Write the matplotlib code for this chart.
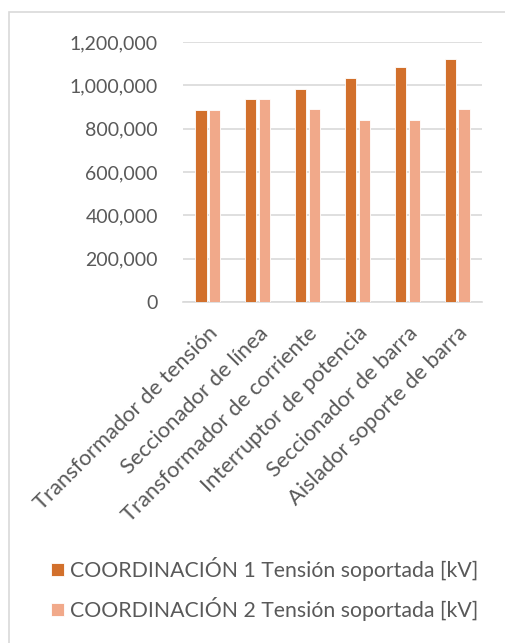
import matplotlib.pyplot as plt
import numpy as np
from matplotlib.ticker import FuncFormatter
from matplotlib.patches import Rectangle

plt.rcParams['font.family'] = ['Lato', 'DejaVu Sans']

equipos = ["Transformador de tensión", "Seccionador de línea", "Transformador de corriente",
           "Interruptor de potencia", "Seccionador de barra", "Aislador soporte de barra"]
coord_1 = [885000, 935000, 984000, 1033000, 1084000, 1122000]
coord_2 = [885000, 935000, 889000, 841000, 841000, 889000]
series = ["COORDINACIÓN 1 Tensión soportada [kV]", "COORDINACIÓN 2 Tensión soportada [kV]"]

gris = '#595959'
fig = plt.figure(figsize=(5.06, 6.43), dpi=100)
ax = fig.add_axes([183 / 506, 1 - 302 / 643, 299 / 506, 260 / 643])

x = np.arange(len(equipos))
ancho = 0.225
b1 = ax.bar(x - 0.14, coord_1, ancho, color='#D2702C', edgecolor='white', linewidth=0.6, zorder=3)
b2 = ax.bar(x + 0.14, coord_2, ancho, color='#F1A98A', edgecolor='white', linewidth=0.6, zorder=3)

ax.set_ylim(0, 1200000)
ax.set_xlim(-0.5, len(equipos) - 0.5)
ax.set_yticks(range(0, 1200001, 200000))
ax.yaxis.set_major_formatter(FuncFormatter(lambda v, p: f'{int(v):,}'))
ax.grid(axis='y', color='#D9D9D9', linewidth=1.2, zorder=0)
for s in ['top', 'right', 'left']:
    ax.spines[s].set_visible(False)
ax.spines['bottom'].set_color('#D9D9D9')
ax.spines['bottom'].set_linewidth(1.2)
ax.tick_params(axis='both', length=0, colors=gris)
ax.tick_params(axis='y', pad=18, labelsize=14)
ax.set_xticks(x)
ax.set_xticklabels(equipos, rotation=45, ha='right', rotation_mode='anchor')
ax.tick_params(axis='x', pad=15, labelsize=15.8)

fig.legend([b1, b2], series, loc='upper left', bbox_to_anchor=(32 / 506, 1 - 538 / 643),
           frameon=False, fontsize=15.3, labelcolor=gris, handlelength=0.6, handleheight=0.6,
           handletextpad=0.3, labelspacing=0.75)

# marco del gráfico
fig.patches.append(Rectangle((9 / 506, -0.1), 1.2, 1 - 12 / 643 + 0.1, transform=fig.transFigure,
                             fill=False, edgecolor='#D9D9D9', linewidth=1.2))

fig.savefig('out.png', dpi=100)
